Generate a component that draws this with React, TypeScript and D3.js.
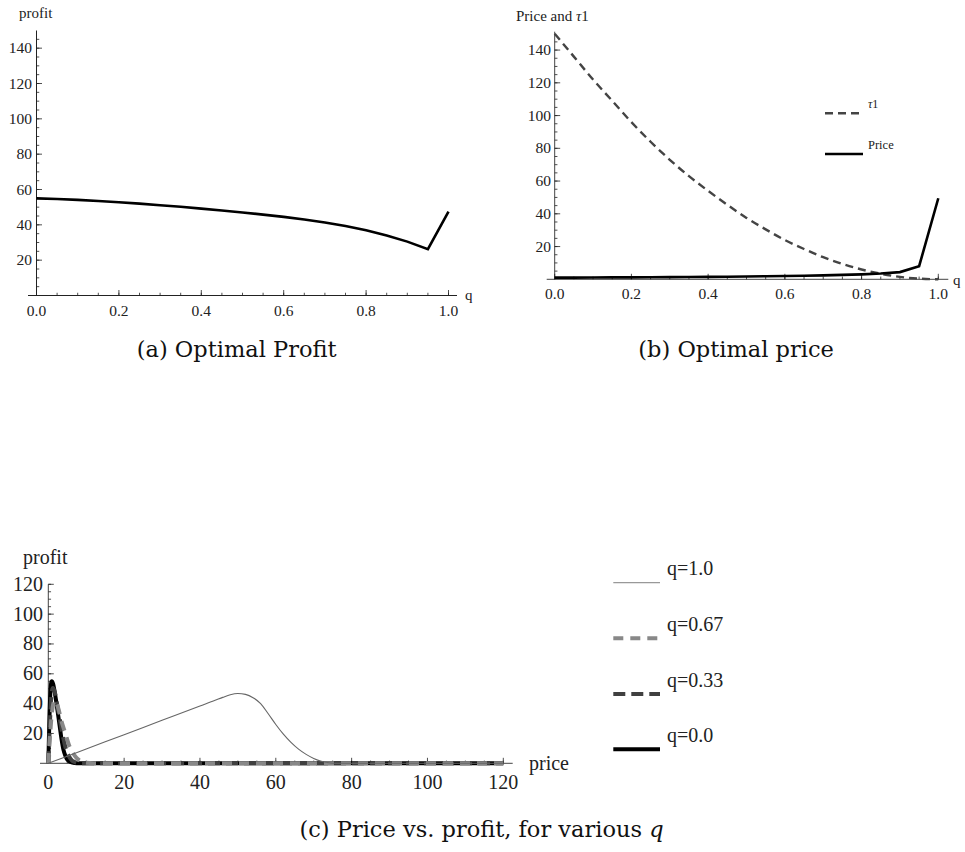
import React from "react";
import * as d3 from "d3";

// ---------- data ----------
const qGrid = [0, 0.05, 0.1, 0.15, 0.2, 0.25, 0.3, 0.35, 0.4, 0.45, 0.5, 0.55, 0.6, 0.65, 0.7, 0.75, 0.8, 0.85, 0.9, 0.95, 1.0];
const optimalProfit = [55, 54.6, 54.1, 53.5, 52.8, 52.0, 51.1, 50.2, 49.2, 48.1, 47.0, 45.8, 44.5, 43.0, 41.3, 39.3, 36.9, 34.0, 30.5, 26.2, 47.5];
const tau1 = [150, 136, 122, 109, 96, 84, 73, 63, 54, 45.5, 37.5, 30.5, 24, 18.5, 13.5, 9.4, 6, 3.4, 1.5, 0.4, 0];
const optimalPrice = [1.0, 1.05, 1.1, 1.15, 1.2, 1.25, 1.3, 1.4, 1.5, 1.6, 1.7, 1.85, 2.0, 2.2, 2.4, 2.7, 3.0, 3.5, 4.4, 8.0, 49.5];

const priceQ00 = [0, 0.3, 0.6, 0.9, 1.3, 1.8, 2.4, 3, 3.5, 4, 4.5, 5, 6, 7, 8, 120];
const profitQ00 = [0, 30, 50, 55, 53, 46, 36, 25, 16, 9, 5, 2.5, 0.8, 0.2, 0, 0];
const priceQ033 = [0, 0.4, 0.8, 1.2, 1.7, 2.3, 3, 3.7, 4.5, 5.3, 6.2, 7, 8.5, 120];
const profitQ033 = [0, 25, 45, 50.5, 48, 40, 30, 20, 11, 5.5, 2, 0.8, 0, 0];
const priceQ067 = [0, 0.5, 1, 1.7, 2.5, 3.5, 4.5, 5.5, 6.5, 7.5, 8.5, 10, 12, 120];
const profitQ067 = [0, 20, 35, 42, 38, 28, 20, 12, 7, 3.5, 1.5, 0.3, 0, 0];
const priceQ10 = [0, 10, 20, 30, 40, 44, 46, 48, 50, 52, 54, 56, 58, 60, 62, 64, 66, 68, 70, 72, 74, 76, 120];
const profitQ10 = [0, 9.6, 19.2, 28.8, 38.4, 42.2, 44.2, 46.0, 46.8, 46.2, 44.0, 40.0, 33.2, 26.0, 19.5, 14.0, 9.5, 6.0, 3.3, 1.4, 0.4, 0, 0];

const qTickValues = [0, 0.2, 0.4, 0.6, 0.8, 1.0];
const qTickLabels = ["0.0", "0.2", "0.4", "0.6", "0.8", "1.0"];
const abYTicks = [20, 40, 60, 80, 100, 120, 140];
const cXTicks = [0, 20, 40, 60, 80, 100, 120];
const cYTicks = [20, 40, 60, 80, 100, 120];
const legendLabelsC = ["q=1.0", "q=0.67", "q=0.33", "q=0.0"];

const SERIF = "'Liberation Serif', 'Times New Roman', serif";
const CAP = "'DejaVu Serif', serif";

type Pt = [number, number];
const zip = (xs: number[], ys: number[]): Pt[] => xs.map((x, i) => [x, ys[i]]);

function Ticks({ x, y, orient, values, major, len }: any) {
  return (
    <g>
      {values.map((v: number, i: number) => {
        const L = major ? len : len * 0.55;
        if (orient === "x") {
          const px = x(v);
          return <line key={i} x1={px} x2={px} y1={y} y2={y - L} stroke="#222" strokeWidth={0.8} />;
        } else {
          const py = y(v);
          return <line key={i} x1={x} x2={x + L} y1={py} y2={py} stroke="#222" strokeWidth={0.8} />;
        }
      })}
    </g>
  );
}

const range = (a: number, b: number, s: number) => {
  const out: number[] = [];
  for (let v = a; v <= b + 1e-9; v += s) out.push(+v.toFixed(6));
  return out;
};

export default function App() {
  // ---------- panel a ----------
  const xa = d3.scaleLinear().domain([0, 1]).range([36.5, 448.5]);
  const ya = d3.scaleLinear().domain([0, 150]).range([295.5, 30.5]);
  const lineA = d3.line<Pt>().x((d) => xa(d[0])).y((d) => ya(d[1]));

  // ---------- panel b ----------
  const xb = d3.scaleLinear().domain([0, 1]).range([554.7, 938.3]);
  const yb = d3.scaleLinear().domain([0, 150]).range([279.3, 33.7]);
  const lineB = d3.line<Pt>().x((d) => xb(d[0])).y((d) => yb(d[1]));
  const lineBs = d3.line<Pt>().x((d) => xb(d[0])).y((d) => yb(d[1])).curve(d3.curveMonotoneX);

  // ---------- panel c ----------
  const xc = d3.scaleLinear().domain([0, 120]).range([48.3, 503.3]);
  const yc = d3.scaleLinear().domain([0, 120]).range([763.3, 584.3]);
  const lineC = d3.line<Pt>().x((d) => xc(d[0])).y((d) => yc(d[1])).curve(d3.curveMonotoneX);

  const seriesC = [
    { label: "q=0.0", d: zip(priceQ00, profitQ00), stroke: "#000", w: 4, dash: undefined },
    { label: "q=0.33", d: zip(priceQ033, profitQ033), stroke: "#404040", w: 4, dash: "12 6" },
    { label: "q=0.67", d: zip(priceQ067, profitQ067), stroke: "#888", w: 4, dash: "10 7" },
    { label: "q=1.0", d: zip(priceQ10, profitQ10), stroke: "#666", w: 1.1, dash: undefined },
  ];
  const legendStyle: Record<string, any> = {
    "q=1.0": { stroke: "#999", w: 1.3, dash: undefined },
    "q=0.67": { stroke: "#888", w: 4, dash: "10 7" },
    "q=0.33": { stroke: "#404040", w: 4, dash: "12 6" },
    "q=0.0": { stroke: "#000", w: 4, dash: undefined },
  };
  const legendY = [582.7, 638.3, 694, 749.3];

  return (
    <svg width={965} height={852} style={{ position: "absolute", left: 0, top: 0, background: "#fff" }}>
      <rect x={0} y={0} width={965} height={852} fill="#fff" />
      {/* ===== panel a ===== */}
      <g fontFamily={SERIF} fill="#222">
        <line x1={28} x2={457} y1={ya(0)} y2={ya(0)} stroke="#222" strokeWidth={1} />
        <line x1={xa(0)} x2={xa(0)} y1={ya(0)} y2={ya(150)} stroke="#222" strokeWidth={1} />
        <Ticks orient="x" x={xa} y={ya(0)} values={range(0, 1, 0.05)} major={false} len={5} />
        <Ticks orient="x" x={xa} y={ya(0)} values={qTickValues} major={true} len={5.5} />
        <Ticks orient="y" x={xa(0)} y={ya} values={range(5, 145, 5)} major={false} len={5} />
        <Ticks orient="y" x={xa(0)} y={ya} values={abYTicks} major={true} len={5.5} />
        {qTickValues.map((v, i) => (
          <text key={i} x={xa(v)} y={316} fontSize={15.5} textAnchor="middle">{qTickLabels[i]}</text>
        ))}
        {abYTicks.map((v) => (
          <text key={v} x={32} y={ya(v) + 5} fontSize={15.5} textAnchor="end">{v}</text>
        ))}
        <text x={19} y={18} fontSize={15}>profit</text>
        <text x={465} y={300} fontSize={15}>q</text>
        <path d={lineA(zip(qGrid, optimalProfit)) || ""} fill="none" stroke="#000" strokeWidth={2.6} strokeLinejoin="miter" />
      </g>
      <text x={136.7} y={357} fontFamily={CAP} fontSize={22.5} fill="#111">(a) Optimal Profit</text>

      {/* ===== panel b ===== */}
      <g fontFamily={SERIF} fill="#222">
        <line x1={546.7} x2={948.3} y1={yb(0)} y2={yb(0)} stroke="#444" strokeWidth={1} />
        <line x1={xb(0)} x2={xb(0)} y1={yb(0)} y2={31.7} stroke="#444" strokeWidth={1} />
        <Ticks orient="x" x={xb} y={yb(0)} values={range(0, 1, 0.05)} major={false} len={5} />
        <Ticks orient="x" x={xb} y={yb(0)} values={qTickValues} major={true} len={5.5} />
        <Ticks orient="y" x={xb(0)} y={yb} values={range(5, 145, 5)} major={false} len={5} />
        <Ticks orient="y" x={xb(0)} y={yb} values={abYTicks} major={true} len={5.5} />
        {qTickValues.map((v, i) => (
          <text key={i} x={xb(v)} y={298.5} fontSize={15.5} textAnchor="middle">{qTickLabels[i]}</text>
        ))}
        {abYTicks.map((v) => (
          <text key={v} x={551} y={yb(v) + 5} fontSize={15.5} textAnchor="end">{v}</text>
        ))}
        <text x={516} y={21} fontSize={15}>Price and <tspan fontStyle="italic">τ</tspan>1</text>
        <text x={953} y={285} fontSize={15}>q</text>
        <path d={lineBs(zip(qGrid, tau1)) || ""} fill="none" stroke="#444" strokeWidth={2.4} strokeDasharray="8 5" />
        <path d={lineB(zip(qGrid, optimalPrice)) || ""} fill="none" stroke="#000" strokeWidth={2.6} />
        <line x1={825} x2={863} y1={113.3} y2={113.3} stroke="#444" strokeWidth={2.4} strokeDasharray="8 5" />
        <text x={868} y={108} fontSize={12}><tspan fontStyle="italic">τ</tspan>1</text>
        <line x1={825} x2={863} y1={154} y2={154} stroke="#000" strokeWidth={2.6} />
        <text x={868} y={148.5} fontSize={12.5}>Price</text>
      </g>
      <text x={638.3} y={357} fontFamily={CAP} fontSize={22.5} fill="#111">(b) Optimal price</text>

      {/* ===== panel c ===== */}
      <g fontFamily={SERIF} fill="#222">
        <line x1={40} x2={512.7} y1={yc(0)} y2={yc(0)} stroke="#444" strokeWidth={1} />
        <line x1={xc(0)} x2={xc(0)} y1={yc(0)} y2={yc(120)} stroke="#444" strokeWidth={1} />
        <Ticks orient="x" x={xc} y={yc(0)} values={range(0, 120, 5)} major={false} len={5} />
        <Ticks orient="x" x={xc} y={yc(0)} values={cXTicks} major={true} len={5.5} />
        <Ticks orient="y" x={xc(0)} y={yc} values={range(5, 120, 5)} major={false} len={5} />
        <Ticks orient="y" x={xc(0)} y={yc} values={cYTicks} major={true} len={5.5} />
        {cXTicks.map((v) => (
          <text key={v} x={xc(v)} y={789} fontSize={20} textAnchor="middle">{v}</text>
        ))}
        {cYTicks.map((v) => (
          <text key={v} x={43} y={yc(v) + 6.5} fontSize={20} textAnchor="end">{v}</text>
        ))}
        <text x={23} y={564} fontSize={20}>profit</text>
        <text x={529} y={770} fontSize={20}>price</text>
        {seriesC.map((s) => (
          <path key={s.label} d={lineC(s.d) || ""} fill="none" stroke={s.stroke} strokeWidth={s.w} strokeDasharray={s.dash} />
        ))}
        {legendLabelsC.map((lab, i) => {
          const st = legendStyle[lab];
          return (
            <g key={lab}>
              <line x1={613.3} x2={660} y1={legendY[i]} y2={legendY[i]} stroke={st.stroke} strokeWidth={st.w} strokeDasharray={st.dash} />
              <text x={667} y={legendY[i] - 7.5} fontSize={20}>{lab}</text>
            </g>
          );
        })}
      </g>
      <text x={481.5} y={836.5} fontFamily={CAP} fontSize={22.5} fill="#111" textAnchor="middle">
        (c) Price vs. profit, for various <tspan fontStyle="italic">q</tspan>
      </text>
    </svg>
  );
}
